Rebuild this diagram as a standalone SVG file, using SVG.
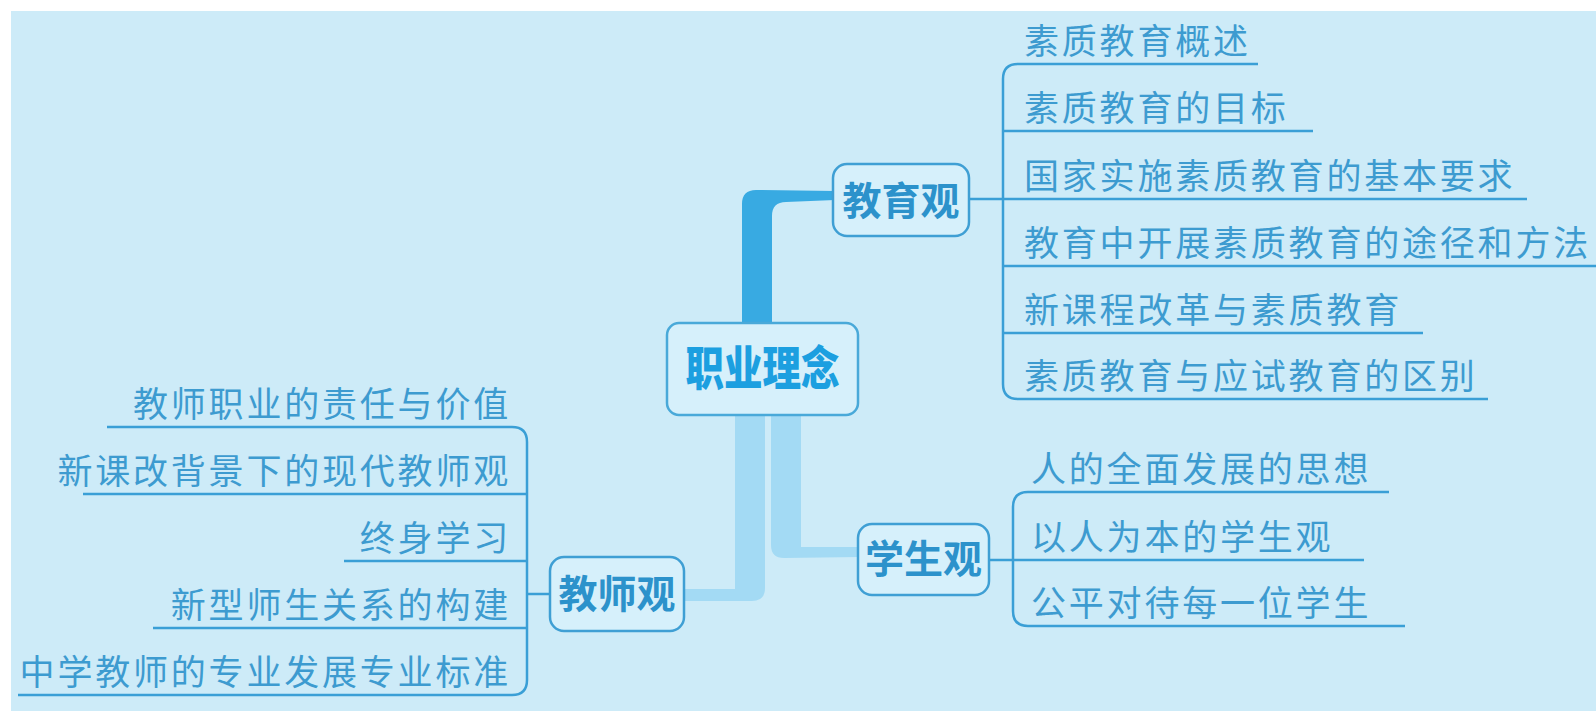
<svg xmlns="http://www.w3.org/2000/svg" width="1596" height="711" viewBox="0 0 1596 711">
<style>
.bg{fill:#cdebf8}
.box{fill:#d6f0fb;stroke:#3f9fd4;stroke-width:2.5}
.main{fill:#d6f0fb;stroke:#49a9d9;stroke-width:2.5}
.nt{font-family:"Noto Sans CJK SC",sans-serif;font-weight:bold;font-size:39px;fill:#2c92cb;text-anchor:middle}
.ct{font-family:"Noto Sans CJK SC",sans-serif;font-weight:900;font-size:47px;fill:#1c9fe0;text-anchor:middle}
.lt{font-family:"Noto Sans CJK SC",sans-serif;font-weight:normal;font-size:35px;letter-spacing:2.8px;fill:#3d9bd0}
.ln{fill:none;stroke:#3a9fd6;stroke-width:2.5}
.dark{fill:#38aae2}
.light{fill:#a3daf4}
</style>
<rect x="0" y="0" width="1596" height="711" fill="#ffffff"/>
<rect class="bg" x="11" y="11" width="1585" height="700"/>
<g id="connectors">
<path class="dark" d="M742 330 L742 204 Q742 190 756 190 L835 191 L835 200 L786 202 Q772 202 772 216 L772 330 Z"/>
<path class="light" d="M735 410 L735 589 L682 589 L682 601 L752 601 Q765 601 765 588 L765 410 Z"/>
<path class="light" d="M771 410 L771 545 Q771 558 784 558 L860 557 L860 547 L801 547 L801 410 Z"/>
<path class="ln" d="M969 199 L1003 199"/>
<path class="ln" d="M1258 64 L1018 64 Q1003 64 1003 79 L1003 384 Q1003 399 1018 399 L1488 399"/>
<path class="ln" d="M1003 131 L1313 131 M1003 199 L1527 199 M1003 266 L1596 266 M1003 333 L1423 333"/>
<path class="ln" d="M550 594 L527 594"/>
<path class="ln" d="M107 427 L512 427 Q527 427 527 442 L527 680 Q527 695 512 695 L18 695"/>
<path class="ln" d="M83 494 L527 494 M344 561 L527 561 M153 628 L527 628"/>
<path class="ln" d="M989 560 L1013 560"/>
<path class="ln" d="M1389 492 L1028 492 Q1013 492 1013 507 L1013 611 Q1013 626 1028 626 L1405 626"/>
<path class="ln" d="M1013 560 L1364 560"/>
</g>
<g id="center">
<rect class="main" x="667" y="323" width="191" height="92" rx="12"/>
<text class="ct" x="762.5" y="385" textLength="154" lengthAdjust="spacingAndGlyphs">职业理念</text>
</g>
<g id="jiaoyuguan">
<rect class="box" x="833" y="164" width="136" height="72" rx="14"/>
<text class="nt" x="901" y="215">教育观</text>
</g>
<g id="jiaoshiguan">
<rect class="box" x="550" y="557" width="134" height="74" rx="14"/>
<text class="nt" x="617" y="608">教师观</text>
</g>
<g id="xueshengguan">
<rect class="box" x="858" y="524" width="131" height="71" rx="14"/>
<text class="nt" x="923.5" y="573">学生观</text>
</g>
<g id="leaves-jiaoyu">
<text class="lt" x="1024" y="54">素质教育概述</text>
<text class="lt" x="1024" y="121">素质教育的目标</text>
<text class="lt" x="1024" y="189">国家实施素质教育的基本要求</text>
<text class="lt" x="1024" y="256">教育中开展素质教育的途径和方法</text>
<text class="lt" x="1024" y="323">新课程改革与素质教育</text>
<text class="lt" x="1024" y="389">素质教育与应试教育的区别</text>
</g>
<g id="leaves-jiaoshi">
<text class="lt" x="511" y="417" text-anchor="end">教师职业的责任与价值</text>
<text class="lt" x="511" y="484" text-anchor="end">新课改背景下的现代教师观</text>
<text class="lt" x="511" y="551" text-anchor="end">终身学习</text>
<text class="lt" x="511" y="618" text-anchor="end">新型师生关系的构建</text>
<text class="lt" x="511" y="685" text-anchor="end">中学教师的专业发展专业标准</text>
</g>
<g id="leaves-xuesheng">
<text class="lt" x="1031" y="482">人的全面发展的思想</text>
<text class="lt" x="1031" y="550">以人为本的学生观</text>
<text class="lt" x="1031" y="616">公平对待每一位学生</text>
</g>
</svg>
